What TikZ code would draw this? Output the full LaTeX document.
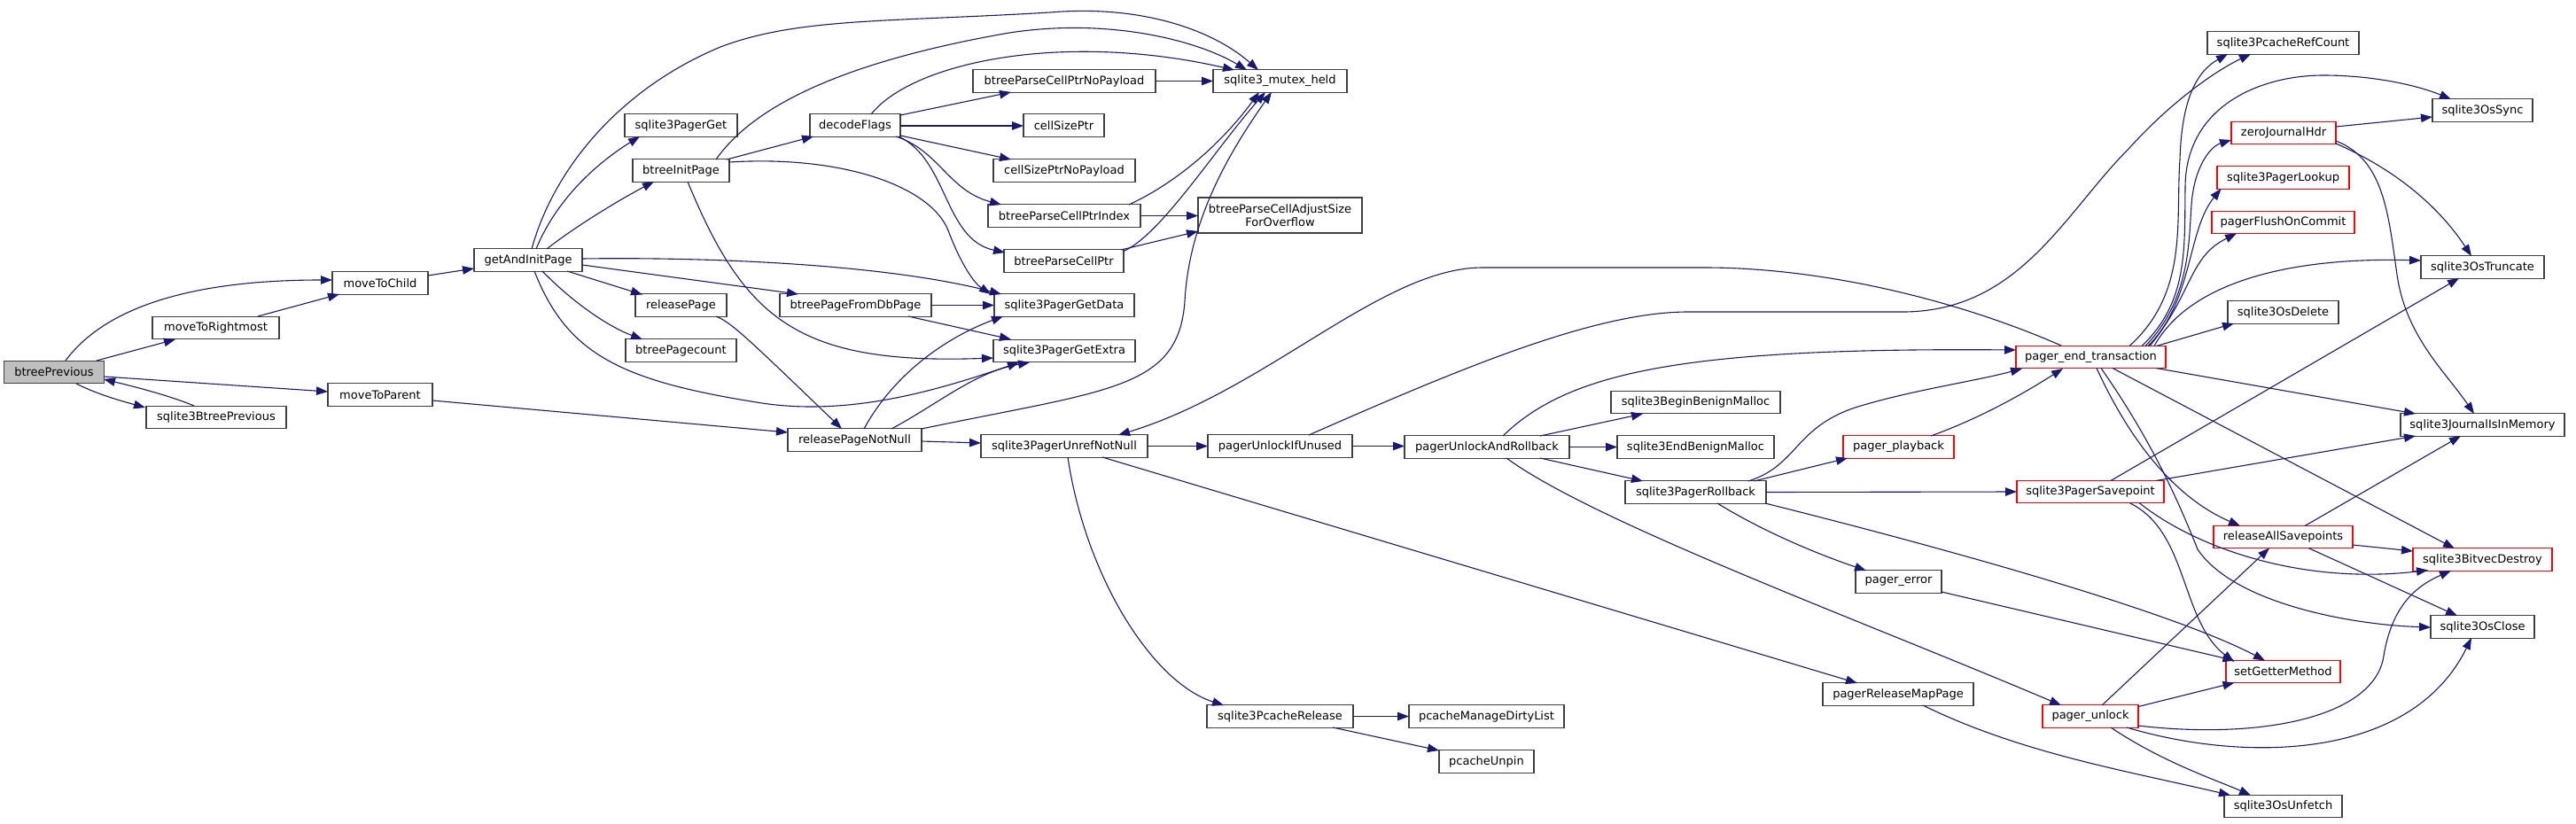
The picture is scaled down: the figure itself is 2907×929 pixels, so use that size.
\documentclass[tikz,border=0pt]{standalone}
\usepackage{fontspec}
\setmainfont{DejaVu Sans}
\usetikzlibrary{arrows.meta,calc}
\definecolor{edgec}{HTML}{191970}
\definecolor{rootc}{HTML}{BFBFBF}
\definecolor{borderc}{HTML}{404040}
\begin{document}
\begin{tikzpicture}[x=1pt,y=-1pt,
  box/.style={draw=borderc, line width=1.3pt, fill=white, rectangle, inner sep=0pt,
              minimum height=25.5pt, font=\fontsize{13}{15}\selectfont},
  redbox/.style={box, draw=red},
  e/.style={draw=edgec, line width=1.1pt, -{Triangle[length=13pt,width=9.5pt]}}]
\useasboundingbox (0,0) rectangle (2907,929);
% nodes
\node[box, fill=rootc, minimum width=113pt] (bp) at (61,420) {btreePrevious};
\node[box, minimum width=143pt] (mtr) at (243.5,370) {moveToRightmost};
\node[box, minimum width=108pt] (mtc) at (429,319.5) {moveToChild};
\node[box, minimum width=122pt] (gaip) at (596,293.5) {getAndInitPage};
\node[box, minimum width=118pt] (mtp) at (429,445.5) {moveToParent};
\node[box, minimum width=158pt] (sbp) at (244,471) {sqlite3BtreePrevious};
\node[box, minimum width=127pt] (spg) at (768.5,141.5) {sqlite3PagerGet};
\node[box, minimum width=109pt] (bip) at (768.5,192.5) {btreeInitPage};
\node[box, minimum width=103pt] (rp) at (768.5,344.5) {releasePage};
\node[box, minimum width=125pt] (bpc) at (768.5,395.5) {btreePagecount};
\node[box, minimum width=102pt] (df) at (965,141.5) {decodeFlags};
\node[box, minimum width=171pt] (bpfdb) at (965.5,344.5) {btreePageFromDbPage};
\node[box, minimum width=151pt] (rpnn) at (964.5,496.5) {releasePageNotNull};
\node[box, minimum width=206pt] (npl) at (1201,91.5) {btreeParseCellPtrNoPayload};
\node[box, minimum width=91pt] (csp) at (1200.5,141.5) {cellSizePtr};
\node[box, minimum width=160pt] (cspn) at (1201,192.5) {cellSizePtrNoPayload};
\node[box, minimum width=172pt] (pci) at (1201,243.5) {btreeParseCellPtrIndex};
\node[box, minimum width=135pt] (pcp) at (1200.5,294.5) {btreeParseCellPtr};
\node[box, minimum width=158pt] (gd) at (1201,344.5) {sqlite3PagerGetData};
\node[box, minimum width=160pt] (ge) at (1201,396) {sqlite3PagerGetExtra};
\node[box, minimum width=188pt] (spunn) at (1201,503.5) {sqlite3PagerUnrefNotNull};
\node[box, minimum width=151pt] (mh) at (1444.5,91.5) {sqlite3\_mutex\_held};
\node[box, minimum width=185pt, minimum height=40pt, align=center] (adj) at (1444.5,243) {btreeParseCellAdjustSize\\ForOverflow};
\node[box, minimum width=163pt] (puiu) at (1444.5,503.5) {pagerUnlockIfUnused};
\node[box, minimum width=165pt] (pcr) at (1444.5,808.5) {sqlite3PcacheRelease};
\node[box, minimum width=186pt] (puar) at (1678,504.5) {pagerUnlockAndRollback};
\node[box, minimum width=175pt] (pmdl) at (1677.5,808.5) {pcacheManageDirtyList};
\node[box, minimum width=107pt] (pun) at (1677.5,859.5) {pcacheUnpin};
\node[box, minimum width=191pt] (bbm) at (1913.5,454) {sqlite3BeginBenignMalloc};
\node[box, minimum width=177pt] (ebm) at (1913.5,504.5) {sqlite3EndBenignMalloc};
\node[box, minimum width=159pt] (prb) at (1913.5,555.5) {sqlite3PagerRollback};
\node[redbox, minimum width=125pt] (ppb) at (2142.5,504.5) {pager\_playback};
\node[box, minimum width=97pt] (perr) at (2142.5,656.5) {pager\_error};
\node[box, minimum width=170pt] (prmp) at (2142,783.5) {pagerReleaseMapPage};
\node[redbox, minimum width=169pt] (pet) at (2359.5,403) {pager\_end\_transaction};
\node[redbox, minimum width=166pt] (sps) at (2359,555) {sqlite3PagerSavepoint};
\node[redbox, minimum width=108pt] (pul) at (2359,808.5) {pager\_unlock};
\node[box, minimum width=171pt] (rc) at (2576.5,48.5) {sqlite3PcacheRefCount};
\node[redbox, minimum width=118pt] (zjh) at (2577,150) {zeroJournalHdr};
\node[redbox, minimum width=149pt] (plk) at (2576.5,200.5) {sqlite3PagerLookup};
\node[redbox, minimum width=161pt] (pfc) at (2576.5,251) {pagerFlushOnCommit};
\node[box, minimum width=125pt] (osd) at (2576.5,352.5) {sqlite3OsDelete};
\node[redbox, minimum width=157pt] (ras) at (2576.5,606) {releaseAllSavepoints};
\node[redbox, minimum width=129pt] (sgm) at (2576.5,758) {setGetterMethod};
\node[box, minimum width=133pt] (ouf) at (2576.5,910) {sqlite3OsUnfetch};
\node[box, minimum width=113pt] (oss) at (2801.5,124.5) {sqlite3OsSync};
\node[box, minimum width=139pt] (ost) at (2801.5,301.5) {sqlite3OsTruncate};
\node[box, minimum width=185pt] (jim) at (2801.5,479.5) {sqlite3JournalIsInMemory};
\node[redbox, minimum width=157pt] (bvd) at (2801.5,631.5) {sqlite3BitvecDestroy};
\node[box, minimum width=117pt] (osc) at (2801.5,707.5) {sqlite3OsClose};
% edges
\draw[e] ($(bp)+(13,-13)$) .. controls (120,345) and (220,316) .. ($(mtc)+(-54,-3.5)$);
\draw[e] ($(bp)+(48,-13)$) -- ($(mtr)+(-45.5,13)$);
\draw[e] ($(mtr)+(47.5,-13)$) -- ($(mtc)+(-46,12.5)$);
\draw[e] ($(mtc)+(54,-8.5)$) -- ($(gaip)+(-61,9.5)$);
\draw[e] ($(bp)+(56,5)$) -- ($(mtp)+(-59,-3.5)$);
\draw[e] ($(bp)+(25,13)$) .. controls (110,445) and (135,452) .. ($(sbp)+(-80,-11)$);
\draw[e] ($(sbp)+(-25,-13)$) .. controls (190,446) and (150,436) .. ($(bp)+(56,8)$);
\draw[e] ($(mtp)+(59,6.5)$) -- ($(rpnn)+(-75.5,-8.5)$);
% getAndInitPage
\draw[e] ($(gaip)+(4,-12.5)$) .. controls (625,190) and (700,100) .. (813,53) .. controls (900,20) and (1000,25) .. (1185,14) .. controls (1290,5) and (1370,35) .. ($(mh)+(-24.5,-12.5)$);
\draw[e] ($(gaip)+(9,-12.5)$) .. controls (630,220) and (680,180) .. ($(spg)+(-46.5,12.5)$);
\draw[e] ($(gaip)+(21,-12.5)$) .. controls (650,255) and (700,225) .. ($(bip)+(-30.5,12.5)$);
\draw[e] ($(gaip)+(61,-1.5)$) .. controls (800,290) and (1000,298) .. ($(gd)+(-71,-12.5)$);
\draw[e] ($(gaip)+(61,5.5)$) -- ($(bpfdb)+(-64.5,-12.5)$);
\draw[e] ($(gaip)+(44,12.5)$) -- ($(rp)+(-43.5,-12)$);
\draw[e] ($(gaip)+(16,12.5)$) .. controls (650,345) and (690,370) .. ($(bpc)+(-43.5,-12.5)$);
\draw[e] ($(gaip)+(7,12.5)$) .. controls (640,400) and (700,430) .. (860,455) .. controls (960,470) and (1060,440) .. ($(ge)+(-51,13)$);
% btreeInitPage
\draw[e] ($(bip)+(39.5,-12.5)$) .. controls (850,120) and (950,70) .. (1139,37) .. controls (1250,20) and (1350,45) .. ($(mh)+(-37.5,-12.5)$);
\draw[e] ($(bip)+(51.5,-12.5)$) -- ($(df)+(-47,12.5)$);
\draw[e] ($(bip)+(54.5,-9.5)$) .. controls (950,175) and (1050,210) .. (1070,260) .. controls (1085,300) and (1100,320) .. ($(gd)+(-83,-12.5)$);
\draw[e] ($(bip)+(7.5,12.5)$) .. controls (840,360) and (900,412) .. ($(ge)+(-80,8)$);
% decodeFlags
\draw[e] ($(df)+(18,-12.5)$) .. controls (1030,70) and (1200,35) .. ($(mh)+(-51.5,-12.5)$);
\draw[e] ($(df)+(51,-11.5)$) -- ($(npl)+(-60,12.5)$);
\draw[e] ($(df)+(51,0.5)$) -- ($(csp)+(-45.5,0.5)$);
\draw[e] ($(df)+(51,11.5)$) -- ($(cspn)+(-60,-12.5)$);
\draw[e] ($(df)+(46,12.5)$) .. controls (1060,170) and (1070,215) .. ($(pci)+(-71,-12.5)$);
\draw[e] ($(df)+(49,12.5)$) .. controls (1070,180) and (1065,270) .. ($(pcp)+(-66.5,-9.5)$);
\draw[e] ($(npl)+(103,0)$) -- ($(mh)+(-75.5,0)$);
\draw[e] ($(pci)+(73,-12.5)$) .. controls (1330,205) and (1380,160) .. ($(mh)+(-23.5,12.5)$);
\draw[e] ($(pci)+(86,0)$) -- ($(adj)+(-92.5,0.5)$);
\draw[e] ($(pcp)+(64.5,-12.5)$) -- ($(adj)+(-92.5,18)$);
\draw[e] ($(pcp)+(67.5,-11)$) .. controls (1310,265) and (1370,170) .. ($(mh)+(-16.5,12.5)$);
\draw[e] ($(rpnn)+(75.5,-12.5)$) .. controls (1250,440) and (1330,440) .. (1337,340) .. controls (1342,250) and (1385,175) .. ($(mh)+(-9.5,12.5)$);
\draw[e] ($(bpfdb)+(85.5,0)$) -- ($(gd)+(-79,0)$);
\draw[e] ($(bpfdb)+(59.5,12.5)$) -- ($(ge)+(-60,-13)$);
\draw[e] ($(rp)+(39.5,12.5)$) .. controls (825,364) and (840,378) .. ($(rpnn)+(-14.5,-12.5)$);
\draw[e] ($(rpnn)+(10.5,-12.5)$) .. controls (1010,420) and (1070,380) .. ($(gd)+(-69,12.5)$);
\draw[e] ($(rpnn)+(41.5,-12.5)$) .. controls (1060,455) and (1100,420) .. ($(ge)+(-39,13)$);
\draw[e] ($(rpnn)+(75.5,1.5)$) -- ($(spunn)+(-94,-3.5)$);
\draw[e] ($(spunn)+(94,0)$) -- ($(puiu)+(-81.5,0)$);
\draw[e] ($(spunn)+(4,12.5)$) .. controls (1225,650) and (1300,770) .. ($(pcr)+(-63.5,-12.5)$);
\draw[e] ($(spunn)+(43,12.5)$) -- ($(prmp)+(-46,-12.5)$);
\draw[e] ($(pet)+(-33.5,-13)$) .. controls (2200,335) and (2050,302) .. (1924,302) -- (1673,302) .. controls (1560,302) and (1430,440) .. ($(spunn)+(61,-12.5)$);
% pagerUnlockIfUnused
\draw[e] ($(puiu)+(81.5,0)$) -- ($(puar)+(-93,-1)$);
\draw[e] ($(puiu)+(32.5,-12.5)$) .. controls (1650,415) and (1800,352) .. (1905,352) -- (2150,352) .. controls (2280,350) and (2330,240) .. (2403,167) .. controls (2450,115) and (2500,80) .. ($(rc)+(-36.5,12.5)$);
% pagerUnlockAndRollback
\draw[e] ($(puar)+(60,-12.5)$) -- ($(bbm)+(-59.5,13)$);
\draw[e] ($(puar)+(93,0)$) -- ($(ebm)+(-88.5,0)$);
\draw[e] ($(puar)+(60,12.5)$) -- ($(prb)+(-59.5,-12.5)$);
\draw[e] ($(puar)+(18,-12.5)$) .. controls (1770,420) and (1900,392) .. ($(pet)+(-84.5,-8)$);
\draw[e] ($(puar)+(22,12.5)$) .. controls (1800,590) and (2100,700) .. ($(pul)+(-33,-12.5)$);
% sqlite3PagerRollback
\draw[e] ($(prb)+(66,-12.5)$) -- ($(ppb)+(-57.5,12.5)$);
\draw[e] ($(prb)+(59.5,-12.5)$) .. controls (2030,525) and (2025,480) .. (2100,458) .. controls (2160,440) and (2230,430) .. ($(pet)+(-77.5,13)$);
\draw[e] ($(ppb)+(36.5,-12.5)$) .. controls (2240,470) and (2290,440) .. ($(pet)+(-31.5,13)$);
\draw[e] ($(prb)+(79.5,0)$) -- ($(sps)+(-83,0)$);
\draw[e] ($(prb)+(24.5,12.5)$) .. controls (1990,600) and (2050,625) .. ($(perr)+(-36.5,-12.5)$);
\draw[e] ($(prb)+(78.5,12.5)$) .. controls (2200,620) and (2450,690) .. ($(sgm)+(-20.5,-12.5)$);
\draw[e] ($(perr)+(48.5,11.5)$) -- ($(sgm)+(-55,-12.5)$);
\draw[e] ($(prmp)+(28,12.5)$) .. controls (2280,850) and (2400,870) .. ($(ouf)+(-59.5,-12.5)$);
\draw[e] ($(pcr)+(82.5,0)$) -- ($(pmdl)+(-87.5,0)$);
\draw[e] ($(pcr)+(59.5,12.5)$) -- ($(pun)+(-53.5,-12.5)$);
% pager_unlock
\draw[e] ($(pul)+(13,-12.5)$) -- ($(ras)+(-15.5,12.5)$);
\draw[e] ($(pul)+(54,-11)$) -- ($(sgm)+(-55,12.5)$);
\draw[e] ($(pul)+(54,10.5)$) .. controls (2550,835) and (2680,810) .. (2690,740) .. controls (2700,680) and (2730,660) .. ($(bvd)+(-35.5,12.5)$);
\draw[e] ($(pul)+(41,12.5)$) .. controls (2530,860) and (2720,860) .. ($(osc)+(-12.5,12.5)$);
\draw[e] ($(pul)+(23,12.5)$) .. controls (2440,860) and (2500,880) .. ($(ouf)+(-36.5,-12.5)$);
% sqlite3PagerSavepoint
\draw[e] ($(sps)+(23,-12.5)$) -- ($(ost)+(-26.5,12.5)$);
\draw[e] ($(sps)+(74,-12.5)$) -- ($(jim)+(-75.5,12.5)$);
\draw[e] ($(sps)+(44,12.5)$) .. controls (2470,600) and (2460,700) .. ($(sgm)+(-55.5,-11)$);
\draw[e] ($(sps)+(55,12.5)$) .. controls (2480,620) and (2600,660) .. ($(bvd)+(-61.5,12)$);
% releaseAllSavepoints
\draw[e] ($(ras)+(24.5,-12.5)$) -- ($(jim)+(-24.5,12.5)$);
\draw[e] ($(ras)+(78.5,9)$) -- ($(bvd)+(-78.5,-9.5)$);
\draw[e] ($(ras)+(28.5,12.5)$) -- ($(osc)+(-28.5,-12.5)$);
% pager_end_transaction
\draw[e] ($(pet)+(43.5,-12.5)$) .. controls (2470,330) and (2455,250) .. (2460,180) .. controls (2462,110) and (2480,80) .. ($(rc)+(-62.5,12.5)$);
\draw[e] ($(pet)+(57.5,-12.5)$) .. controls (2470,340) and (2465,280) .. (2466,210) .. controls (2467,120) and (2550,85) .. (2622,85) .. controls (2680,85) and (2730,97) .. ($(oss)+(-35.5,-12.5)$);
\draw[e] ($(pet)+(61.5,-12.5)$) .. controls (2480,330) and (2468,250) .. (2475,215) .. controls (2480,185) and (2495,165) .. ($(zjh)+(-59,8)$);
\draw[e] ($(pet)+(64.5,-12.5)$) .. controls (2475,340) and (2468,260) .. ($(plk)+(-70,12.5)$);
\draw[e] ($(pet)+(66.5,-12.5)$) .. controls (2475,330) and (2470,290) .. ($(pfc)+(-52.5,12.5)$);
\draw[e] ($(pet)+(71.5,-12.5)$) .. controls (2470,320) and (2580,290) .. ($(ost)+(-69.5,-7.5)$);
\draw[e] ($(pet)+(74,-12.5)$) -- ($(osd)+(-55.5,12.5)$);
\draw[e] ($(pet)+(73.5,12.5)$) -- ($(jim)+(-75.5,-12.5)$);
\draw[e] ($(pet)+(24.5,12.5)$) -- ($(bvd)+(-31.5,-12.5)$);
\draw[e] ($(pet)+(6.5,12.5)$) .. controls (2400,490) and (2450,560) .. ($(ras)+(-48.5,-12.5)$);
\draw[e] ($(pet)+(11.5,12.5)$) .. controls (2430,500) and (2460,570) .. (2480,620) .. controls (2520,680) and (2650,705) .. ($(osc)+(-58.5,0.5)$);
% zeroJournalHdr
\draw[e] ($(zjh)+(59,-7)$) -- ($(oss)+(-56.5,7.5)$);
\draw[e] ($(zjh)+(59,12)$) .. controls (2700,190) and (2750,230) .. ($(ost)+(-12.5,-12.5)$);
\draw[e] ($(zjh)+(59,9)$) .. controls (2690,180) and (2695,240) .. (2705,310) .. controls (2715,380) and (2760,420) .. ($(jim)+(-9.5,-12.5)$);
\end{tikzpicture}
\end{document}
